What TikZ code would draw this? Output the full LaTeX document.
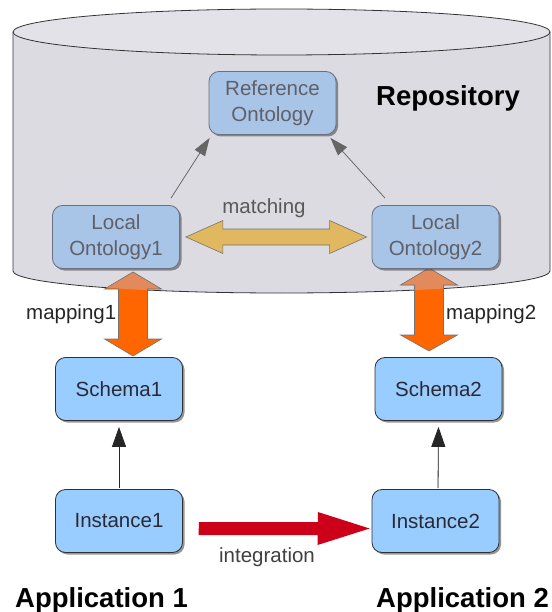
\documentclass[tikz,border=0pt]{standalone}
\usepackage{fontspec}
\setmainfont{Liberation Sans}
\usetikzlibrary{arrows.meta,shadows,calc}
\definecolor{cylfill}{HTML}{DCDBE2}
\definecolor{salmon}{HTML}{E28A5C}
\definecolor{mapor}{HTML}{FF6600}
\definecolor{matchcol}{HTML}{E0B860}
\definecolor{intred}{HTML}{CC0018}
\definecolor{ontofill}{HTML}{A8C4E6}
\definecolor{ontodraw}{HTML}{6A7080}
\definecolor{ontotext}{HTML}{5F6068}
\definecolor{boxfill}{HTML}{99CCFF}
\definecolor{boxdraw}{HTML}{303030}
\definecolor{boxtext}{HTML}{2A2A35}
\begin{document}
\begin{tikzpicture}[x=1pt,y=-1pt,
  boxbase/.style={rounded corners=10pt, minimum width=127pt, minimum height=63pt,
     align=center, font=\fontsize{20.5}{26}\selectfont, line width=0.8pt,
     drop shadow={shadow xshift=2pt, shadow yshift=-2pt, opacity=0.55, fill=black!75}},
  onto/.style={boxbase, fill=ontofill, draw=ontodraw, text=ontotext},
  appbox/.style={boxbase, fill=boxfill, draw=boxdraw, text=boxtext},
  lbl/.style={inner sep=0pt, anchor=base, font=\fontsize{20.5}{24}\selectfont},
  big/.style={inner sep=0pt, anchor=base west, font=\fontsize{27.5}{30}\selectfont\bfseries, text=black},
  thinarr/.style={line width=0.7pt, draw=black!60, -{Triangle[length=18pt,width=12pt]}, fill=black!70},
  fatline/.style={draw=black!55, line width=0.6pt}
]
\useasboundingbox (0,0) rectangle (551,612);
\fill[white] (0,0) rectangle (551,612);

% cylinder body
\path[save path=\cylpath] (13,32) -- (13,271) arc[start angle=180, end angle=0, x radius=268.5, y radius=22] -- (550,32) -- cycle;
\fill[cylfill, use path=\cylpath];
\draw[black!80, line width=0.8pt] (13,32) -- (13,271) arc[start angle=180, end angle=0, x radius=268.5, y radius=22] -- (550,32);
\draw[black!80, fill=cylfill!80!white, line width=0.8pt] (281.5,32) ellipse[x radius=268.5, y radius=23];

% mapping arrows
\def\maparrowL{(133,272) -- (161.5,289) -- (147.5,289) -- (147.5,339) -- (161.5,339) -- (133,356) -- (104.5,339) -- (118.5,339) -- (118.5,289) -- (104.5,289) -- cycle}
\def\maparrowR{(429,268) -- (457.5,285) -- (443.5,285) -- (443.5,335) -- (457.5,335) -- (429,351) -- (400.5,335) -- (414.5,335) -- (414.5,285) -- (400.5,285) -- cycle}
\fill[mapor] \maparrowL;
\fill[mapor] \maparrowR;
\begin{scope}
  \clip[use path=\cylpath];
  \fill[salmon] \maparrowL;
  \fill[salmon] \maparrowR;
\end{scope}
\draw[fatline] \maparrowL;
\draw[fatline] \maparrowR;

% boxes
\node[onto] (ref) at (272.5,103) {Reference\\Ontology};
\node[onto] (l1) at (116,237) {Local\\Ontology1};
\node[onto] (l2) at (435.5,237) {Local\\Ontology2};
\node[appbox] (s1) at (119,389) {Schema1};
\node[appbox] (s2) at (438.5,389) {Schema2};
\node[appbox] (i1) at (119,521) {Instance1};
\node[appbox] (i2) at (435.5,521) {Instance2};

% thin arrows
\draw[thinarr] ($(l1.north)+(55,-7)$) -- ($(ref.south west)+(1,3)$);
\draw[thinarr] ($(l2.north)+(-50.5,-7)$) -- ($(ref.south east)+(-6,3)$);
\draw[line width=0.8pt, draw=black!85, -{Triangle[length=20pt,width=14pt]}, fill=black] ($(i1.north)+(0,-1)$) -- ($(s1.south)+(0,6)$);
\draw[line width=0.8pt, draw=black!85, -{Triangle[length=20pt,width=14pt]}, fill=black] ($(i2.north)+(2.5,-1)$) -- ($(s2.south)+(0,6)$);

% matching double arrow
\filldraw[fill=matchcol, draw=black!55, line width=0.6pt]
  ($(l1.east)+(6,0)$) -- ++(37,-16.5) -- ++(0,8.5) -- ($(l2.west)+(-42,-8)$) -- ++(0,-8.5) -- ($(l2.west)+(-5,0)$)
  -- ++(-37,16.5) -- ++(0,-8.5) -- ($(l1.east)+(43,8)$) -- ++(0,8.5) -- cycle;

% integration arrow
\fill[intred] ($(i1.east)+(16,1)$) -- ++(119,0) -- ++(0,-10) -- ($(i2.west)+(-2,7.5)$) -- ++(-52,16.5) -- ++(0,-10) -- ++(-119,0) -- cycle;

% labels
\node[lbl, text=black!65] (tmatch) at (264,213) {matching};
\node[lbl, anchor=base west, text=black!85] (tmap1) at (26,319) {mapping1};
\node[lbl, anchor=base west, text=black!85] (tmap2) at (446,319) {mapping2};
\node[lbl, text=black!75] (tint) at (267,562) {integration};
\node[big] (trepo) at (376,106) {Repository};
\node[big] (tapp1) at (15,607) {Application 1};
\node[big] (tapp2) at (376,607) {Application 2};
\end{tikzpicture}
\end{document}
